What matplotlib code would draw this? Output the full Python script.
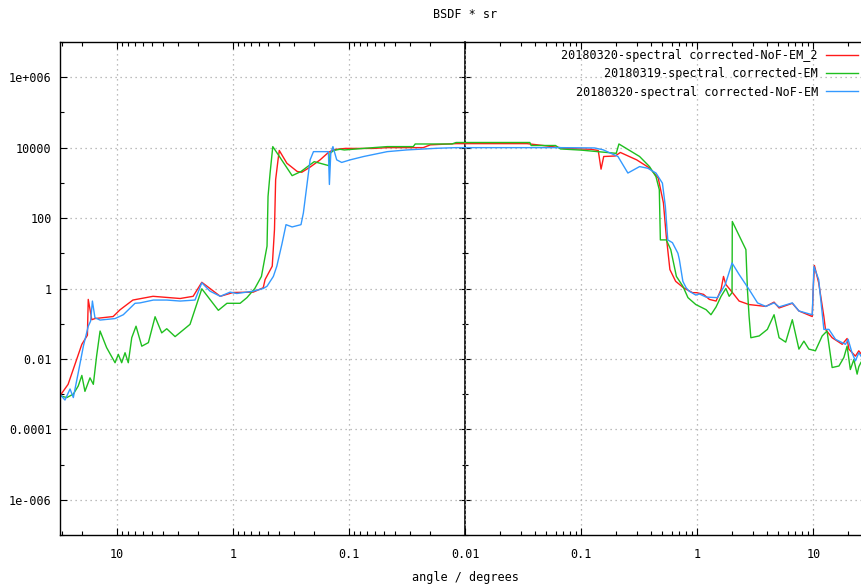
import numpy as np
import matplotlib
matplotlib.use("Agg")
import matplotlib.pyplot as plt
from matplotlib.ticker import FixedLocator, NullFormatter

# signed angle in degrees: negative = left half of the scan
red_ang = [-31, -26.4, -22.2, -20.1, -18.0, -17.7, -16.5, -15.5, -10.8, -9.4, -7.3, -4.9,
           -2.86, -2.21, -1.86, -1.29, -1.0, -0.67, -0.55, -0.53, -0.46, -0.44, -0.43, -0.41,
           -0.40, -0.344, -0.28, -0.256, -0.217, -0.178, -0.151, -0.137, -0.12, -0.108,
           -0.062, -0.047, -0.023, -0.02, -0.012,
           0.012, 0.034, 0.047, 0.066, 0.07, 0.12, 0.14, 0.148, 0.156, 0.196, 0.217, 0.30,
           0.39, 0.46, 0.51, 0.54, 0.58, 0.65, 0.76, 0.91, 0.99, 1.13, 1.27, 1.45, 1.6, 1.68,
           1.76, 2.01, 2.29, 2.79, 3.89, 4.58, 5.06, 6.58, 7.5, 9.77, 9.96, 10.2, 11.1, 12.3,
           12.7, 14.5, 17.7, 19.5, 20.2, 23, 24.6, 25.7]
red_val = [9e-4, 1.9e-3, 0.01, 0.026, 0.047, 0.49, 0.13, 0.14, 0.16, 0.25, 0.47, 0.6,
           0.52, 0.6, 1.5, 0.6, 0.77, 0.79, 1.05, 1.8, 4.3, 47, 1230, 4500,
           8300, 3600, 2100, 2000, 2800, 4500, 7300, 8700, 9200, 9500,
           9500, 10000, 10000, 12000, 13000,
           13000, 13000, 11500, 10000, 9500, 9000, 8300, 2450, 5600, 5800, 7300, 4500,
           2600, 1370, 270, 30, 3.45, 1.6, 1.05, 0.76, 0.76, 0.68, 0.49, 0.44, 0.94, 2.2,
           1.3, 0.76, 0.44, 0.35, 0.31, 0.41, 0.28, 0.38, 0.23, 0.16, 0.94, 4.5, 1.45, 0.16,
           0.069, 0.04, 0.026, 0.038, 0.019, 0.012, 0.017, 0.014]

green_ang = [-31, -27.1, -23.8, -21.6, -20.1, -18.9, -17.1, -16.0, -15.0, -14.0, -12.3,
             -10.4, -9.75, -9.12, -8.53, -8.0, -7.47, -6.86, -6.12, -5.37, -4.70, -4.12,
             -3.73, -3.16, -2.35, -1.86, -1.34, -1.13, -0.87, -0.76, -0.65, -0.57, -0.51,
             -0.50, -0.48, -0.455, -0.39, -0.31, -0.26, -0.20, -0.178, -0.148, -0.146,
             -0.136, -0.12, -0.11, -0.062, -0.047, -0.028, -0.027, -0.013, -0.012,
             0.012, 0.036, 0.037, 0.06, 0.066, 0.1, 0.19, 0.20, 0.211, 0.318, 0.387, 0.44,
             0.47, 0.48, 0.54, 0.59, 0.66, 0.75, 0.83, 0.97, 1.19, 1.31, 1.45, 1.6, 1.76,
             1.88, 1.99, 2.0, 2.62, 2.70, 2.79, 2.89, 3.41, 4.01, 4.58, 5.06, 5.77, 6.58,
             7.5, 8.28, 9.14, 10.4, 11.9, 13.1, 14.5, 16.6, 18.3, 19.5, 20.8, 22.3, 23.8,
             24.6, 25.7]
green_val = [9e-4, 8e-4, 1e-3, 1.7e-3, 3.4e-3, 1.2e-3, 2.9e-3, 1.9e-3, 0.012, 0.062, 0.021,
             7.8e-3, 0.0135, 7.8e-3, 0.015, 7.8e-3, 0.04, 0.085, 0.023, 0.029, 0.158, 0.055,
             0.072, 0.043, 0.096, 0.98, 0.24, 0.38, 0.38, 0.55, 1.0, 2.2, 16,
             410, 1900, 10700, 5000, 1600, 2100, 4000, 3600, 3050, 6900,
             8300, 9000, 8600, 10000, 10700, 10700, 12700, 12700, 14000,
             14000, 14000, 11500, 11500, 9200, 8500, 7000, 6900, 12700, 5600, 2900, 1500,
             640, 24, 24, 12.7, 2.2, 1.16, 0.55, 0.35, 0.25, 0.18, 0.3, 0.6, 1.0,
             0.6, 0.76, 80, 12.7, 0.94, 0.164, 0.04, 0.045, 0.069, 0.18, 0.04, 0.03, 0.13,
             0.019, 0.032, 0.019, 0.017, 0.045, 0.062, 5.7e-3, 6.3e-3, 0.011, 0.023, 5e-3,
             9.6e-3, 3.7e-3, 6e-3, 8e-3]

blue_ang = [-31, -28.1, -25.4, -23.8, -21.6, -19.5, -17.7, -16.9, -16.3, -15.5, -14.0,
            -10.4, -8.83, -7.0, -6.34, -4.86, -3.73, -2.86, -2.13, -1.86, -1.58, -1.29,
            -1.06, -0.93, -0.67, -0.55, -0.51, -0.45, -0.42, -0.38, -0.35, -0.31, -0.26,
            -0.248, -0.232, -0.217, -0.203, -0.151, -0.148, -0.144, -0.138, -0.128, -0.116,
            -0.098, -0.075, -0.047, -0.032, -0.0175, -0.012,
            0.012, 0.066, 0.13, 0.154, 0.207, 0.252, 0.318, 0.374, 0.44, 0.50, 0.53, 0.556,
            0.61, 0.68, 0.70, 0.75, 0.80, 0.85, 0.97, 1.04, 1.19, 1.49, 1.74, 1.99, 2.29,
            2.79, 3.30, 3.89, 4.58, 5.06, 6.58, 7.5, 9.77, 10.1, 11.1, 12.3, 13.6, 15.5,
            18.9, 19.9, 21.5, 23, 24.6, 25.7]
blue_val = [1e-3, 6.8e-4, 1.4e-3, 8e-4, 4e-3, 0.023, 0.085, 0.118, 0.44, 0.148, 0.127,
            0.14, 0.18, 0.38, 0.39, 0.47, 0.47, 0.44, 0.47, 1.45, 0.84, 0.6,
            0.79, 0.72, 0.84, 1.0, 1.16, 2.2, 4.3, 18, 65, 56, 65,
            140, 790, 4500, 7700, 7700, 900, 6900, 10700, 4500, 3800,
            4500, 5600, 7700, 8600, 9600, 10000,
            10000, 10000, 9800, 8700, 5600, 1900, 2900, 2600, 1900, 980, 215, 24,
            20, 10, 6.6, 1.6, 1.05, 0.84, 0.65, 0.7, 0.57, 0.55, 1.3, 5.3, 2.5,
            0.94, 0.39, 0.31, 0.39, 0.30, 0.39, 0.23, 0.18, 4.2, 1.8, 0.069, 0.069, 0.036,
            0.026, 0.036, 0.015, 8.8e-3, 0.015, 0.012]

labels = ["20180320-spectral corrected-NoF-EM_2",
          "20180319-spectral corrected-EM",
          "20180320-spectral corrected-NoF-EM"]
colors = ["#ff1a1a", "#1fbf1f", "#3399ff"]

x_major = [-10, -1, -0.1, 0.01, 0.1, 1, 10]
x_major_labels = ["10", "1", "0.1", "0.01", "0.1", "1", "10"]
y_major = [1e-6, 1e-4, 1e-2, 1, 1e2, 1e4, 1e6]
y_major_labels = ["1e-006", "0.0001", "0.01", "1", "100", "10000", "1e+006"]
y_minor = [1e-7, 1e-5, 1e-3, 1e-1, 1e1, 1e3, 1e5, 1e7]
x_lim = (-31, 25.7)


# log scale mirrored around 0.01 deg
def fwd(x):
    x = np.asarray(x, dtype=float)
    return np.sign(x) * (np.log10(np.maximum(np.abs(x), 0.01)) + 2)


def inv(u):
    u = np.asarray(u, dtype=float)
    return np.sign(u) * 10 ** (np.abs(u) - 2)


plt.rcParams["font.family"] = "DejaVu Sans Mono"
fs = 8.5

fig = plt.figure(figsize=(8.61, 5.85), dpi=100)
ax = fig.add_axes([60 / 861, 1 - 535 / 585, 1 - 60 / 861, 493 / 585])
ax.set_xscale("function", functions=(fwd, inv))
ax.set_yscale("log")

for a, v, c, lab in zip([red_ang, green_ang, blue_ang], [red_val, green_val, blue_val],
                        colors, labels):
    ax.plot(a, v, color=c, lw=1.0, label=lab)

ax.set_xlim(*x_lim)
ax.set_ylim(1e-7, 1e7)

x_minor = []
for side in (-1, 1):
    for d in (0.01, 0.1, 1, 10):
        for k in range(2, 10):
            x = side * k * d
            if x_lim[0] <= x <= x_lim[1]:
                x_minor.append(x)

ax.xaxis.set_major_locator(FixedLocator(x_major))
ax.set_xticklabels(x_major_labels)
ax.xaxis.set_minor_locator(FixedLocator(x_minor))
ax.xaxis.set_minor_formatter(NullFormatter())
ax.yaxis.set_major_locator(FixedLocator(y_major))
ax.set_yticklabels(y_major_labels)
ax.yaxis.set_minor_locator(FixedLocator(y_minor))
ax.yaxis.set_minor_formatter(NullFormatter())

ax.tick_params(which="both", direction="in", top=True, right=False, labelsize=fs,
               width=0.8, color="black")
ax.tick_params(which="major", length=5)
ax.tick_params(which="minor", length=3)
ax.tick_params(axis="x", pad=9)
ax.tick_params(axis="y", pad=6)

ax.grid(True, which="major", color="#a8a8a8", linestyle=(0, (1, 3)), linewidth=0.9)
ax.spines["right"].set_visible(False)
for s in ("left", "top", "bottom"):
    ax.spines[s].set_linewidth(1.0)

# vertical axis through 0.01 deg
u0, u1 = fwd(x_lim[0]), fwd(x_lim[1])
mid = ax.secondary_yaxis(float(-u0 / (u1 - u0)))
mid.yaxis.set_major_locator(FixedLocator(y_major))
mid.yaxis.set_minor_locator(FixedLocator(y_minor))
mid.yaxis.set_major_formatter(NullFormatter())
mid.yaxis.set_minor_formatter(NullFormatter())
mid.tick_params(which="both", direction="inout", width=0.8)
mid.tick_params(which="major", length=9)
mid.tick_params(which="minor", length=5)
mid.spines["right"].set_linewidth(1.2)
mid.spines["left"].set_linewidth(1.2)

ax.legend(loc="upper right", bbox_to_anchor=(858 / 861, 1 - 49 / 585),
          bbox_transform=fig.transFigure, frameon=False, markerfirst=False,
          fontsize=fs, handlelength=2.7, handletextpad=0.7, labelspacing=0.45,
          borderpad=0, borderaxespad=0)

fig.text(465 / 861, 1 - 15 / 585, "BSDF * sr", ha="center", va="center", fontsize=fs)
fig.text(465 / 861, 1 - 577 / 585, "angle / degrees", ha="center", va="center", fontsize=fs)

fig.savefig("out.png", dpi=100)
